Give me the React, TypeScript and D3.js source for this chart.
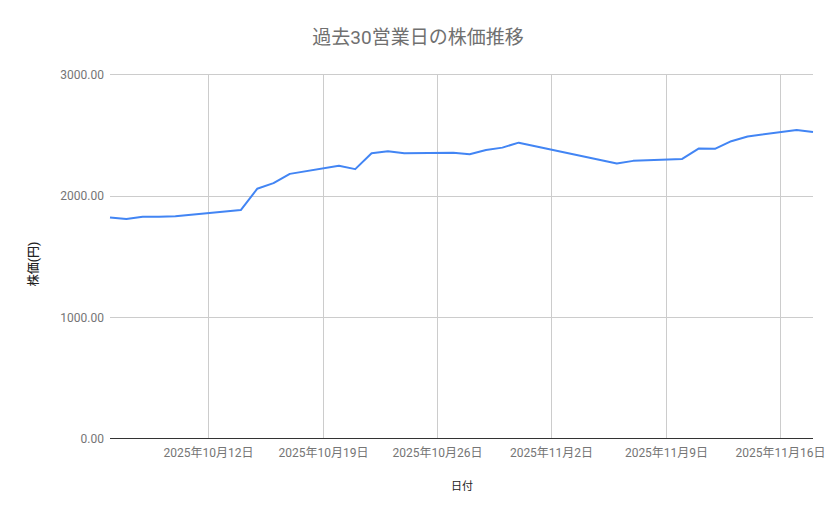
import React, { useMemo } from 'react'
import * as d3 from 'd3'

const width = 839
const height = 519
const margin = { top: 74, right: 26, bottom: 80, left: 110 }

const title = '過去30営業日の株価推移'
const xTitle = '日付'
const yTitle = '株価(円)'

// 営業日 (10/13 と 11/3 は祝日)
const dates = [
  '2025-10-06', '2025-10-07', '2025-10-08', '2025-10-09', '2025-10-10',
  '2025-10-14', '2025-10-15', '2025-10-16', '2025-10-17',
  '2025-10-20', '2025-10-21', '2025-10-22', '2025-10-23', '2025-10-24',
  '2025-10-27', '2025-10-28', '2025-10-29', '2025-10-30', '2025-10-31',
  '2025-11-06', '2025-11-07',
  '2025-11-10', '2025-11-11', '2025-11-12', '2025-11-13', '2025-11-14',
  '2025-11-17', '2025-11-18',
]
const prices = [
  1819, 1806, 1825, 1825, 1830,
  1880, 2055, 2102, 2178,
  2244, 2217, 2348, 2365, 2348,
  2351, 2340, 2375, 2394, 2435,
  2263, 2285,
  2301, 2386, 2384, 2447, 2485,
  2540, 2523,
]
const yTicks = [0, 1000, 2000, 3000]
const xTicks = ['2025-10-12', '2025-10-19', '2025-10-26', '2025-11-02', '2025-11-09', '2025-11-16']

const parse = d3.timeParse('%Y-%m-%d')
const fmtDate = (d: Date) => `${d.getFullYear()}年${d.getMonth() + 1}月${d.getDate()}日`
const font = "Roboto, 'Noto Sans CJK JP', sans-serif"

function App() {
  const data = useMemo(() => dates.map((d, i) => ({ date: parse(d)!, value: prices[i] })), [])

  const x = useMemo(
    () => d3.scaleTime()
      .domain([data[0].date, data[data.length - 1].date])
      .range([margin.left, width - margin.right]),
    [data]
  )
  const y = useMemo(
    () => d3.scaleLinear().domain([0, 3000]).range([height - margin.bottom - 0.5, margin.top]),
    []
  )
  const line = d3.line<{ date: Date, value: number }>()
    .x(d => x(d.date))
    .y(d => y(d.value))

  const x0 = margin.left
  const x1 = width - margin.right
  const yBase = y(0)

  return (
    <svg width={width} height={height} style={{ position: 'absolute', left: 0, top: 0, background: '#fff' }}>
      <text x={418} y={44} textAnchor="middle" fontFamily={font} fontSize={19} fill="#707070">{title}</text>

      {yTicks.map(t => (
        <g key={t}>
          {t > 0 && <line x1={x0} x2={x1} y1={Math.round(y(t)) + 0.5} y2={Math.round(y(t)) + 0.5} stroke="#cccccc" />}
          <text x={104} y={y(t) + 4.5} textAnchor="end" fontFamily={font} fontSize={12} fill="#757575">
            {d3.format('.2f')(t)}
          </text>
        </g>
      ))}

      {xTicks.map(t => {
        const d = parse(t)!
        const px = Math.round(x(d)) + 0.5
        return (
          <g key={t}>
            <line x1={px} x2={px} y1={margin.top} y2={yBase} stroke="#cccccc" />
            <text x={px} y={457} textAnchor="middle" fontFamily={font} fontSize={12} fill="#757575">
              {fmtDate(d)}
            </text>
          </g>
        )
      })}

      <line x1={x0} x2={x1} y1={yBase} y2={yBase} stroke="#333333" strokeWidth={1.2} />

      <path d={line(data)!} fill="none" stroke="#4285F4" strokeWidth={2} strokeLinejoin="round" />

      <text x={462} y={490} textAnchor="middle" fontFamily={font} fontSize={11} fill="#222222">{xTitle}</text>
      <text transform="translate(37.5,264) rotate(-90)" textAnchor="middle" fontFamily={font} fontSize={12} fontWeight={500} fill="#222222">{yTitle}</text>
    </svg>
  )
}

export default App
